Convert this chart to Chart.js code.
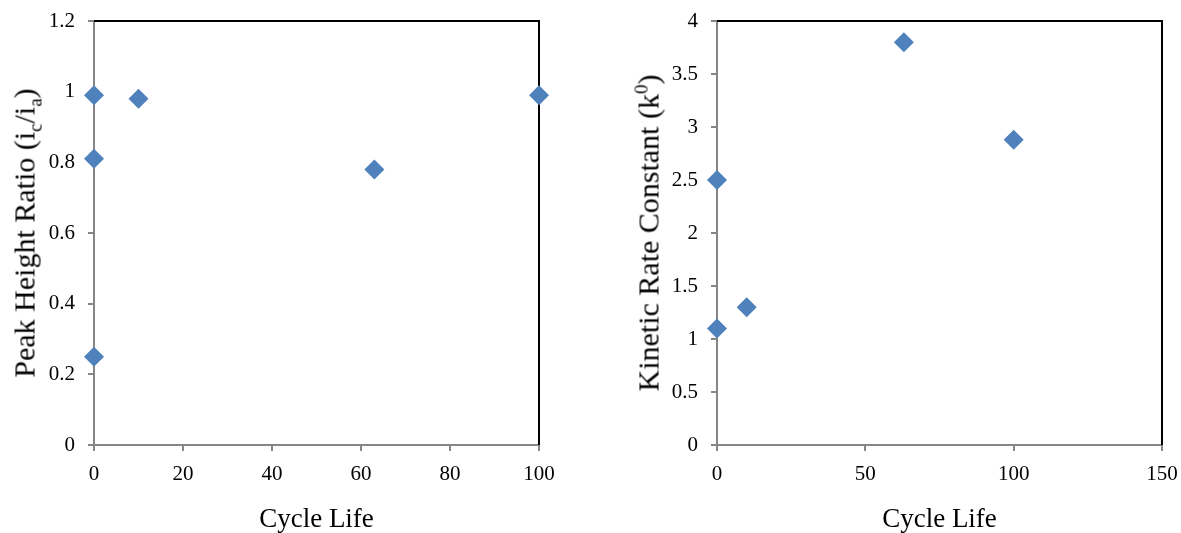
<!DOCTYPE html>
<html lang="en">

<head>
    <meta charset="UTF-8">
    <title>Cycle Life</title>
    <script src="https://cdn.jsdelivr.net/npm/chart.js"></script>
    <style>
        body {
            margin: 0;
            background: #ffffff;
            width: 1181px;
            height: 533px;
            position: relative;
            overflow: hidden;
            font-family: 'Liberation Serif', serif;
        }

        .panel {
            position: absolute;
            top: 0;
            height: 533px;
        }

        .ytitle {
            position: absolute;
            white-space: nowrap;
            font-size: 30px;
            color: #000;
            transform: translate(-50%, -50%) rotate(-90deg);
        }

        .ytitle sub, .ytitle sup {
            font-size: 19px;
        }
    </style>
</head>

<body>
    <div class="panel" style="left:0;width:590px"><canvas id="ratioChart" width="590" height="533"></canvas></div>
    <div class="panel" style="left:590px;width:591px"><canvas id="rateChart" width="591" height="533"></canvas></div>
    <div class="ytitle" style="left:27px;top:233px">Peak Height Ratio (i<sub>c</sub>/i<sub>a</sub>)</div>
    <div class="ytitle" style="left:648px;top:233px">Kinetic Rate Constant (k<sup>0</sup>)</div>

    <script>
        // Peak height ratio vs cycle life
        const ratioCycles = [0, 0, 0, 10, 63, 100];
        const ratioValues = [0.99, 0.81, 0.25, 0.98, 0.78, 0.99];
        const ratioXTicks = [0, 20, 40, 60, 80, 100];
        const ratioYTicks = [0, 0.2, 0.4, 0.6, 0.8, 1, 1.2];

        // Kinetic rate constant vs cycle life
        const rateCycles = [0, 0, 10, 63, 100];
        const rateValues = [2.5, 1.1, 1.3, 3.8, 2.88];
        const rateXTicks = [0, 50, 100, 150];
        const rateYTicks = [0, 0.5, 1, 1.5, 2, 2.5, 3, 3.5, 4];

        const axisGray = '#868686';
        const markerBlue = '#4F81BD';
        const tickFont = { family: 'Liberation Serif', size: 21 };

        // black top and right frame lines
        const frame = {
            id: 'frame',
            beforeDatasetsDraw(chart) {
                const { ctx, chartArea: a } = chart;
                ctx.save();
                ctx.strokeStyle = '#000';
                ctx.lineWidth = 2;
                ctx.beginPath();
                ctx.moveTo(a.left, a.top);
                ctx.lineTo(a.right, a.top);
                ctx.lineTo(a.right, a.bottom);
                ctx.stroke();
                ctx.restore();
            }
        };

        // fixed axis sizes, no extra label overflow padding
        function pinSize(s, w, h) {
            if (w) s.width = w;
            if (h) s.height = h;
            s.paddingLeft = s.paddingRight = s.paddingTop = s.paddingBottom = 0;
        }

        function makeChart(id, xs, ys, xTicks, yTicks, yWidth, padRight) {
            const pts = xs.map((x, i) => ({ x: x, y: ys[i] }));
            return new Chart(document.getElementById(id), {
                type: 'scatter',
                data: {
                    datasets: [{
                        data: pts,
                        clip: false,
                        pointStyle: 'rectRot',
                        pointRadius: 10,
                        pointHoverRadius: 10,
                        backgroundColor: markerBlue,
                        borderColor: markerBlue,
                        borderWidth: 0
                    }]
                },
                options: {
                    responsive: false,
                    animation: false,
                    layout: { padding: { top: 21, right: padRight, left: 0, bottom: 0 } },
                    plugins: { legend: { display: false }, tooltip: { enabled: false } },
                    scales: {
                        x: {
                            type: 'linear',
                            min: xTicks[0],
                            max: xTicks[xTicks.length - 1],
                            afterBuildTicks(s) { s.ticks = xTicks.map(v => ({ value: v })); },
                            afterFit(s) { pinSize(s, 0, 88); },
                            grid: { drawOnChartArea: false, color: axisGray, tickLength: 6, lineWidth: 2 },
                            border: { color: axisGray, width: 2 },
                            ticks: { color: '#000', font: tickFont, padding: 11, maxRotation: 0, callback: v => String(v) },
                            title: {
                                display: true,
                                text: 'Cycle Life',
                                color: '#000',
                                font: { family: 'Liberation Serif', size: 27 },
                                padding: { top: 0, bottom: -3 }
                            }
                        },
                        y: {
                            type: 'linear',
                            min: yTicks[0],
                            max: yTicks[yTicks.length - 1],
                            afterBuildTicks(s) { s.ticks = yTicks.map(v => ({ value: v })); },
                            afterFit(s) { pinSize(s, yWidth, 0); },
                            grid: { drawOnChartArea: false, color: axisGray, tickLength: 6, lineWidth: 2 },
                            border: { color: axisGray, width: 2 },
                            ticks: { color: '#000', font: tickFont, padding: 13, callback: v => String(v) }
                        }
                    }
                },
                plugins: [frame]
            });
        }

        makeChart('ratioChart', ratioCycles, ratioValues, ratioXTicks, ratioYTicks, 94, 51);
        makeChart('rateChart', rateCycles, rateValues, rateXTicks, rateYTicks, 127, 19);
    </script>
</body>

</html>
